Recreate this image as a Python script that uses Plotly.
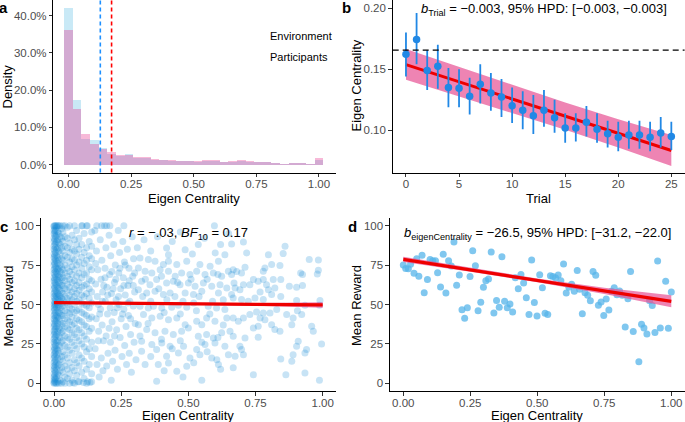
import plotly.graph_objects as go

W, H = 685, 422
FONT = "Liberation Sans, Arial, Helvetica, sans-serif"

# ---------------- Panel a: histogram of eigen centrality ----------------
n_bins = 30
env_density = [42.1, 17.4, 6.8, 6.5, 4.5, 3.0, 2.4, 2.9, 1.9, 1.8, 1.25, 1.2, 1.0, 0.9, 0.9,
               0.8, 1.1, 1.1, 0.6, 0.7, 1.0, 0.8, 0.6, 0.6, 0.4, 0.3, 0.4, 0.4, 0.2, 1.2]
part_density = [36.2, 15.0, 8.25, 5.6, 4.1, 3.5, 2.6, 2.6, 2.1, 2.0, 1.5, 1.3, 1.2, 1.1, 1.0,
                0.9, 1.3, 1.2, 0.6, 0.9, 1.3, 0.9, 0.7, 0.7, 0.5, 0.3, 0.5, 0.5, 0.3, 1.8]
env_mean = 0.127
part_mean = 0.172
legend_labels = ["Environment", "Participants"]
unit_ticks = [0, 0.25, 0.5, 0.75, 1.0]
unit_ticktext = ["0.00", "0.25", "0.50", "0.75", "1.00"]
a_yticks = [0, 0.1, 0.2, 0.3, 0.4]

# ---------------- Panel b: centrality by trial ----------------
trials = list(range(26))
b_mean = [0.1623, 0.1743, 0.149, 0.1525, 0.135, 0.1344, 0.128, 0.1377, 0.1306, 0.1273,
          0.1202, 0.1164, 0.112, 0.1164, 0.1104, 0.102, 0.102, 0.1066, 0.101, 0.0973,
          0.0945, 0.0962, 0.0962, 0.0945, 0.0978, 0.095]
b_hi = [0.180, 0.196, 0.1656, 0.170, 0.151, 0.150, 0.143, 0.154, 0.147, 0.142,
        0.135, 0.132, 0.129, 0.133, 0.125, 0.114, 0.114, 0.120, 0.114, 0.108,
        0.107, 0.108, 0.108, 0.107, 0.111, 0.107]
b_lo = [0.144, 0.154, 0.133, 0.134, 0.119, 0.119, 0.113, 0.122, 0.116, 0.111,
        0.106, 0.101, 0.097, 0.103, 0.098, 0.090, 0.091, 0.095, 0.090, 0.086,
        0.083, 0.085, 0.085, 0.083, 0.086, 0.084]
b_fit_t = [0, 5, 10, 15, 20, 25]
b_fit = [0.1538, 0.1398, 0.1258, 0.1117, 0.0977, 0.0836]
b_fit_hi = [0.1666, 0.1518, 0.1372, 0.1228, 0.1091, 0.0962]
b_fit_lo = [0.1414, 0.1280, 0.1144, 0.1006, 0.0861, 0.0710]
b_ref = 0.1656
b_xticks = [0, 5, 10, 15, 20, 25]
b_yticks = [0.10, 0.15, 0.20]

# ---------------- Panel c: individual mean reward vs centrality ----------------
c_col_x = [0.000, 0.003, 0.006, 0.010, 0.014, 0.018, 0.023, 0.028,
           0.033, 0.041, 0.050, 0.058, 0.067, 0.076, 0.084, 0.093, 0.103, 0.112, 0.121, 0.131, 0.140]
c_col_y = [
    [0, 0.5, 2, 4, 6, 9, 11, 13, 16, 18, 21, 23, 26, 28, 31, 33, 36, 38, 41, 43, 46, 48, 50, 52,
     55, 57, 60, 62, 65, 67, 70, 72, 75, 77, 80, 82, 85, 87, 90, 92, 95, 97, 99.5, 100],
    [1, 3, 5, 8, 10, 14, 17, 19, 22, 25, 29, 32, 34, 37, 40, 44, 47, 49, 51, 54, 58, 61, 64, 66,
     69, 73, 76, 79, 81, 84, 88, 91, 94, 96, 98, 100],
    [0, 2.5, 7, 12, 15, 20, 24, 27, 30, 35, 39, 42, 45, 50, 53, 56, 59, 63, 68, 71, 74, 78, 83, 86,
     89, 93, 97, 100],
    [0, 4, 9, 13, 18, 22, 26, 31, 36, 40, 43, 48, 51, 55, 58, 62, 66, 70, 73, 77, 81, 85, 90, 94, 99, 100],
    [1, 6, 11, 16, 21, 27, 33, 38, 42, 46, 50, 54, 57, 61, 65, 69, 72, 76, 80, 86, 91, 96, 100],
    [0, 5, 12, 19, 24, 30, 35, 41, 45, 49, 53, 56, 60, 64, 68, 73, 78, 84, 89, 95, 100],
    [2, 8, 15, 23, 29, 34, 39, 44, 48, 52, 55, 59, 63, 67, 71, 75, 82, 88, 93, 100],
    [0, 10, 17, 26, 32, 37, 43, 47, 51, 54, 58, 62, 66, 70, 74, 79, 86, 92, 98],
    [1, 7, 14, 20, 27, 33, 38, 43, 49, 53, 57, 62, 67, 72, 78, 84, 90, 96, 100],
    [0, 4, 11, 18, 24, 30, 36, 41, 46, 51, 55, 60, 65, 70, 75, 81, 87, 93, 100],
    [3, 9, 16, 23, 29, 35, 40, 45, 50, 54, 59, 63, 68, 73, 80, 86, 92, 99],
    [0, 6, 13, 21, 28, 34, 39, 44, 48, 52, 56, 61, 66, 71, 77, 83, 89, 100],
    [2, 10, 19, 26, 32, 37, 42, 47, 53, 58, 64, 69, 74, 79, 85, 94],
    [0, 8, 15, 24, 31, 38, 45, 50, 55, 60, 65, 72, 78, 84, 91, 100],
    [5, 13, 22, 29, 35, 41, 46, 52, 57, 62, 68, 75, 82, 88, 97],
    [1, 11, 18, 27, 34, 40, 47, 53, 59, 64, 70, 77, 85, 92],
    [7, 16, 25, 32, 39, 45, 51, 56, 61, 67, 73, 80, 88, 100],
    [3, 14, 23, 30, 37, 44, 50, 55, 62, 69, 76, 83, 95],
    [0, 9, 20, 28, 36, 43, 49, 57, 63, 70, 78, 86, 100],
    [12, 22, 33, 41, 48, 54, 60, 66, 74, 81, 90],
    [1, 6, 17, 26, 35, 42, 51, 58, 65, 72, 79, 87, 96],
]
c_mid = [
    (0.152, 97), (0.158, 84), (0.163, 72), (0.155, 63), (0.161, 55), (0.157, 41), (0.166, 33),
    (0.153, 22), (0.160, 12), (0.168, 4), (0.172, 91), (0.178, 78), (0.175, 66), (0.181, 58),
    (0.173, 47), (0.179, 37), (0.184, 27), (0.176, 16), (0.182, 8), (0.188, 100), (0.193, 86),
    (0.190, 73), (0.197, 61), (0.191, 52), (0.199, 44), (0.194, 30), (0.201, 19), (0.196, 11),
    (0.205, 94), (0.211, 81), (0.207, 69), (0.214, 57), (0.209, 48), (0.216, 39), (0.210, 26),
    (0.218, 14), (0.213, 2), (0.222, 88), (0.228, 75), (0.225, 64), (0.231, 53), (0.224, 45),
    (0.233, 34), (0.227, 21), (0.236, 9), (0.239, 97), (0.244, 83), (0.241, 70), (0.248, 60),
    (0.242, 50), (0.250, 41), (0.246, 29), (0.253, 17), (0.256, 90), (0.262, 77), (0.258, 67),
    (0.265, 56), (0.260, 47), (0.268, 36), (0.263, 24), (0.270, 12), (0.273, 85), (0.279, 73),
    (0.275, 62), (0.282, 52), (0.277, 43), (0.285, 31), (0.280, 19), (0.288, 7), (0.291, 93),
    (0.296, 79), (0.293, 68), (0.300, 58), (0.295, 49), (0.302, 38), (0.298, 26), (0.305, 15),
    (0.165, 50), (0.185, 62), (0.200, 56), (0.220, 60), (0.240, 55), (0.260, 62), (0.280, 65),
    (0.170, 44), (0.190, 67), (0.215, 71), (0.235, 48), (0.255, 44), (0.275, 51), (0.295, 62),
    (0.155, 76), (0.205, 35), (0.245, 73), (0.285, 41), (0.165, 27), (0.225, 30), (0.265, 75),
    (0.300, 70), (0.180, 52), (0.230, 66), (0.105, 100), (0.124, 100), (0.159, 100),
    (0.177, 100), (0.196, 100), (0.208, 100), (0.260, 100), (0.070, 0.5), (0.090, 1),
    (0.110, 0.5), (0.125, 1), (0.134, 0.5),
]
c_far_mid = [
    (0.597, 100), (0.419, 85.9), (0.426, 81.6), (0.537, 88), (0.600, 82.7), (0.636, 81.6),
    (0.488, 84.8), (0.320, 79.5), (0.351, 78.5), (0.376, 77.4), (0.407, 75.3), (0.426, 77.4),
    (0.457, 75.3), (0.494, 77.4), (0.543, 75.3), (0.581, 74.2), (0.612, 77.4), (0.314, 73.2),
    (0.339, 71.1), (0.364, 70), (0.395, 72.1), (0.426, 71.1), (0.451, 67.9), (0.475, 70),
    (0.506, 69), (0.531, 71.1), (0.562, 69), (0.593, 70), (0.624, 67.9), (0.649, 71.1),
    (0.326, 64.7), (0.357, 62.6), (0.382, 65.8), (0.419, 63.7), (0.444, 64.7), (0.469, 62.6),
    (0.500, 63.7), (0.525, 61.6), (0.556, 63.7), (0.587, 61.6), (0.618, 62.6), (0.643, 60.5),
    (0.314, 59.4), (0.345, 57.3), (0.376, 58.4), (0.407, 56.3), (0.432, 57.3), (0.488, 57.3),
    (0.519, 56.3), (0.550, 58.4), (0.612, 57.3), (0.661, 56.3), (0.320, 48.9), (0.351, 47.8),
    (0.370, 48.9), (0.401, 47.8), (0.438, 48.2), (0.463, 49.5), (0.494, 48.2), (0.574, 48.9),
    (0.605, 47.8), (0.636, 46.8), (0.333, 43.6), (0.364, 41.5), (0.395, 42.5), (0.426, 40.4),
    (0.457, 41.5), (0.488, 37.2), (0.531, 39.4), (0.550, 37.2), (0.500, 35.1), (0.568, 41.5),
    (0.599, 39.4), (0.643, 41.5), (0.314, 37.2), (0.345, 34.1), (0.376, 32), (0.413, 33),
    (0.444, 30.9), (0.475, 33), (0.537, 29.8), (0.568, 30.9), (0.593, 28.8), (0.624, 32),
    (0.655, 33), (0.326, 26.7), (0.364, 24.6), (0.401, 25.6), (0.432, 23.5), (0.482, 23.5),
    (0.531, 21.4), (0.562, 24.6), (0.599, 25.6), (0.636, 23.5), (0.326, 20.3), (0.382, 21.4),
    (0.419, 17.2), (0.463, 19.3), (0.506, 16.1), (0.543, 18.2), (0.587, 16.1), (0.649, 18.2),
    (0.339, 11.9), (0.388, 11.9), (0.426, 12.9), (0.457, 7.7), (0.494, 10.8), (0.606, 15),
    (0.382, 1.3), (0.612, 11.9), (0.310, 86), (0.335, 91), (0.360, 84), (0.385, 93),
    (0.440, 90), (0.470, 96), (0.515, 82), (0.560, 92), (0.620, 88), (0.650, 95), (0.330, 55),
    (0.360, 52), (0.390, 60), (0.420, 53), (0.450, 55), (0.480, 52), (0.520, 51), (0.540, 55),
    (0.590, 52), (0.630, 53), (0.340, 66), (0.400, 68), (0.460, 64), (0.510, 66), (0.570, 66),
    (0.610, 69), (0.350, 38), (0.410, 45), (0.470, 44), (0.530, 46), (0.580, 44), (0.630, 37),
    (0.320, 30), (0.400, 28), (0.470, 27), (0.550, 26), (0.610, 29), (0.360, 17), (0.440, 22),
    (0.520, 13), (0.570, 20), (0.620, 9), (0.480, 4), (0.550, 2), (0.410, 8),
]
c_far = [
    (0.661, 88.4), (0.717, 82.7), (0.705, 89.7), (0.860, 86.9), (0.798, 81.6), (0.853, 82.3),
    (0.950, 78.5), (0.984, 71.7), (0.980, 69.4), (0.918, 70), (0.925, 69), (0.810, 75.3),
    (0.841, 74.7), (0.785, 73.2), (0.779, 71.1), (0.711, 73.6), (0.698, 70), (0.680, 71),
    (0.667, 72.1), (0.661, 69), (0.670, 63.7), (0.742, 65.8), (0.760, 64.7), (0.779, 65.8),
    (0.816, 65.8), (0.844, 65.8), (0.876, 61.6), (0.903, 60.9), (0.925, 62), (0.791, 62.6),
    (0.822, 60.5), (0.798, 59.4), (0.729, 62.6), (0.705, 62.6), (0.692, 59.4), (0.674, 60.5),
    (0.767, 58), (0.810, 56.3), (0.844, 55), (0.748, 54.2), (0.779, 53.1), (0.723, 52),
    (0.698, 53.1), (0.667, 54.2), (0.990, 52.5), (0.903, 52.5), (0.934, 49.5), (0.906, 46.1),
    (0.922, 43.6), (0.890, 41.5), (0.866, 43.6), (0.829, 46.8), (0.804, 44.6), (0.779, 44.6),
    (0.767, 41.5), (0.785, 40.4), (0.754, 45.3), (0.729, 43.6), (0.705, 41.5), (0.686, 39.4),
    (0.667, 41.5), (0.742, 35.1), (0.760, 36.2), (0.810, 37.2), (0.822, 34.1), (0.841, 33),
    (0.885, 37.2), (0.959, 36.2), (0.965, 33), (0.996, 25), (0.667, 29.8), (0.711, 28.8),
    (0.760, 29.2), (0.909, 26.7), (0.903, 23.5), (0.940, 21.4), (0.934, 19.3), (0.890, 18.2),
    (0.885, 14), (0.844, 15.5), (0.667, 9.8), (0.674, 17.2), (0.692, 23.5), (0.705, 18.2),
    (0.698, 21.4), (0.742, 5.5), (0.863, 5.5), (0.934, 6.6), (0.988, 1.9), (0.984, 78.2),
    (0.988, 49.5),
]
c_fit_x = [0, 0.25, 0.5, 0.75, 1.0]
c_fit = [51.2, 50.8, 50.45, 50.1, 49.7]
c_fit_lo = [50.5, 50.3, 49.8, 49.2, 47.9]
c_fit_hi = [51.9, 51.4, 51.1, 51.0, 51.5]
reward_ticks = [0, 25, 50, 75, 100]

# ---------------- Panel d: environment-level mean reward ----------------
d_points = [
    (0.000, 75.1), (0.009, 72.9), (0.019, 72.7), (0.027, 75.5), (0.040, 69.8), (0.050, 79.1),
    (0.058, 67.9), (0.070, 81.2), (0.078, 57.5), (0.090, 65.8), (0.100, 78.6), (0.110, 77.8),
    (0.120, 77.8), (0.128, 70.2), (0.139, 61.1), (0.149, 81.8), (0.159, 57.3), (0.169, 77.8),
    (0.179, 74.4), (0.189, 89.6), (0.199, 62.2), (0.209, 68.7), (0.219, 46.7), (0.229, 41.2),
    (0.239, 48.0), (0.249, 67.7), (0.259, 84.1), (0.269, 74.6), (0.279, 46.1), (0.289, 51.4),
    (0.299, 60.9), (0.308, 65.1), (0.318, 66.2), (0.328, 83.3), (0.338, 44.6), (0.348, 52.6),
    (0.358, 48.2), (0.368, 80.3), (0.378, 52.0), (0.388, 48.0), (0.398, 50.3), (0.408, 45.2),
    (0.418, 67.0), (0.429, 60.0), (0.439, 69.1), (0.449, 63.6), (0.459, 54.3), (0.469, 43.6),
    (0.479, 78.2), (0.489, 51.2), (0.499, 42.7), (0.509, 68.9), (0.519, 60.7), (0.529, 44.4),
    (0.539, 43.6), (0.549, 68.3), (0.558, 67.7), (0.568, 67.0), (0.578, 68.7), (0.588, 65.1),
    (0.598, 75.7), (0.608, 57.3), (0.618, 60.9), (0.628, 62.8), (0.638, 58.4), (0.649, 71.5),
    (0.658, 59.6), (0.668, 44.2), (0.678, 57.5), (0.688, 55.8), (0.698, 52.4), (0.708, 71.0),
    (0.718, 68.5), (0.728, 49.5), (0.738, 51.6), (0.748, 43.1), (0.757, 53.5), (0.767, 46.5),
    (0.777, 58.4), (0.787, 60.7), (0.797, 56.2), (0.807, 58.6), (0.817, 55.8), (0.828, 35.7),
    (0.838, 53.7), (0.848, 71.0), (0.858, 32.8), (0.879, 13.7), (0.889, 37.4), (0.898, 35.1),
    (0.909, 31.3), (0.919, 52.4), (0.929, 49.3), (0.939, 32.3), (0.949, 77.6), (0.959, 35.1),
    (0.979, 64.7), (0.989, 34.9), (1.000, 57.9),
]
d_fit_x = [0, 0.25, 0.5, 0.75, 1.0]
d_fit = [78.6, 72.0, 65.3, 58.7, 52.0]
d_fit_lo = [76.9, 70.8, 64.1, 56.6, 48.2]
d_fit_hi = [80.3, 73.2, 66.5, 60.6, 55.8]

# ---------------- colours ----------------
ENV_FILL = "rgba(135,206,235,0.45)"
PART_FILL = "rgba(231,41,138,0.33)"
RIBBON = "rgba(231,84,150,0.72)"
FIT_RED = "#EE0000"
B_BLUE = "rgb(33,136,229)"
C_DOT = "rgba(20,140,215,0.24)"
D_DOT = "rgba(86,180,233,0.75)"


def px_x(px):
    return px / W


def px_y(py):
    return 1 - py / H


fig = go.Figure()

# ---- a
centers = [k / (n_bins - 1) for k in range(n_bins)]
bw = 1 / (n_bins - 1)
fig.add_trace(go.Bar(x=centers, y=[v / 100 for v in env_density], width=bw,
                     marker=dict(color=ENV_FILL, line=dict(width=0)),
                     xaxis="x", yaxis="y", showlegend=False))
fig.add_trace(go.Bar(x=centers, y=[v / 100 for v in part_density], width=bw,
                     marker=dict(color=PART_FILL, line=dict(width=0)),
                     xaxis="x", yaxis="y", showlegend=False))

# ---- b
fig.add_trace(go.Scatter(x=b_fit_t, y=b_fit_lo, mode="lines", line=dict(width=0),
                         xaxis="x2", yaxis="y2", showlegend=False, hoverinfo="skip"))
fig.add_trace(go.Scatter(x=b_fit_t, y=b_fit_hi, mode="lines", line=dict(width=0),
                         fill="tonexty", fillcolor=RIBBON,
                         xaxis="x2", yaxis="y2", showlegend=False, hoverinfo="skip"))
fig.add_trace(go.Scatter(x=b_fit_t, y=b_fit, mode="lines", line=dict(color=FIT_RED, width=3),
                         xaxis="x2", yaxis="y2", showlegend=False))
fig.add_trace(go.Scatter(
    x=trials, y=b_mean, mode="markers",
    marker=dict(color=B_BLUE, size=7.5),
    error_y=dict(type="data", symmetric=False,
                 array=[h - m for h, m in zip(b_hi, b_mean)],
                 arrayminus=[m - l for m, l in zip(b_mean, b_lo)],
                 color=B_BLUE, thickness=1.8, width=0),
    xaxis="x2", yaxis="y2", showlegend=False))

# ---- c
cx, cy = [], []
for x0, ys in zip(c_col_x, c_col_y):
    for y0 in ys:
        cx.append(x0)
        cy.append(y0)
for pts in (c_mid, c_far_mid, c_far):
    for x0, y0 in pts:
        cx.append(x0)
        cy.append(y0)
fig.add_trace(go.Scatter(x=cx, y=cy, mode="markers",
                         marker=dict(color=C_DOT, size=7, line=dict(width=0)),
                         xaxis="x3", yaxis="y3", showlegend=False))
fig.add_trace(go.Scatter(x=c_fit_x, y=c_fit_lo, mode="lines", line=dict(width=0),
                         xaxis="x3", yaxis="y3", showlegend=False, hoverinfo="skip"))
fig.add_trace(go.Scatter(x=c_fit_x, y=c_fit_hi, mode="lines", line=dict(width=0),
                         fill="tonexty", fillcolor=RIBBON,
                         xaxis="x3", yaxis="y3", showlegend=False, hoverinfo="skip"))
fig.add_trace(go.Scatter(x=c_fit_x, y=c_fit, mode="lines", line=dict(color=FIT_RED, width=3.2),
                         xaxis="x3", yaxis="y3", showlegend=False))

# ---- d
fig.add_trace(go.Scatter(x=[p[0] for p in d_points], y=[p[1] for p in d_points], mode="markers",
                         marker=dict(color=D_DOT, size=7, line=dict(width=0)),
                         xaxis="x4", yaxis="y4", showlegend=False))
fig.add_trace(go.Scatter(x=d_fit_x, y=d_fit_lo, mode="lines", line=dict(width=0),
                         xaxis="x4", yaxis="y4", showlegend=False, hoverinfo="skip"))
fig.add_trace(go.Scatter(x=d_fit_x, y=d_fit_hi, mode="lines", line=dict(width=0),
                         fill="tonexty", fillcolor=RIBBON,
                         xaxis="x4", yaxis="y4", showlegend=False, hoverinfo="skip"))
fig.add_trace(go.Scatter(x=d_fit_x, y=d_fit, mode="lines", line=dict(color=FIT_RED, width=3.2),
                         xaxis="x4", yaxis="y4", showlegend=False))

axis_common = dict(showline=True, linecolor="black", linewidth=1, ticks="outside",
                   ticklen=3.5, tickwidth=1, tickcolor="#333333", showgrid=False,
                   zeroline=False, tickfont=dict(size=11.5, color="#4D4D4D", family=FONT),
                   fixedrange=True, automargin=False)
xaxis_extra = dict(ticklabelstandoff=-3)

fig.update_layout(
    width=W, height=H, margin=dict(l=0, r=0, t=0, b=0, pad=0, autoexpand=False), autosize=False,
    paper_bgcolor="white", plot_bgcolor="white", barmode="overlay", bargap=0,
    font=dict(family=FONT, color="black"), showlegend=False,
    xaxis=dict(domain=[px_x(53.3), px_x(335.5)], range=[-0.0607, 1.066], anchor="y",
               tickvals=unit_ticks, ticktext=unit_ticktext, **axis_common, **xaxis_extra),
    yaxis=dict(domain=[px_y(172.5), 1], range=[-0.021, 0.442], anchor="x",
               tickvals=a_yticks, tickformat=".1%", **axis_common),
    xaxis2=dict(domain=[px_x(392.7), px_x(684.6)], range=[-1.25, 26.25], anchor="y2",
                tickvals=b_xticks, **axis_common, **xaxis_extra),
    yaxis2=dict(domain=[px_y(172.5), 1], range=[0.0656, 0.2066], anchor="x2",
                tickvals=b_yticks, ticktext=["0.10", "0.15", "0.20"], **axis_common),
    xaxis3=dict(domain=[px_x(40.6), px_x(336.1)], range=[-0.05, 1.05], anchor="y3",
                tickvals=unit_ticks, ticktext=unit_ticktext, **axis_common, **xaxis_extra),
    yaxis3=dict(domain=[px_y(391.2), px_y(217.8)], range=[-5, 105], anchor="x3",
                tickvals=reward_ticks, **axis_common),
    xaxis4=dict(domain=[px_x(389.9), px_x(684.7)], range=[-0.05, 1.05], anchor="y4",
                tickvals=unit_ticks, ticktext=unit_ticktext, **axis_common, **xaxis_extra),
    yaxis4=dict(domain=[px_y(391.2), px_y(217.8)], range=[-5, 105], anchor="x4",
                tickvals=reward_ticks, **axis_common),
)

# dashed reference lines
fig.add_shape(type="line", xref="x", yref="y domain", x0=env_mean, x1=env_mean, y0=0, y1=1,
              line=dict(color="#1E90FF", width=1.6, dash="4px,3px"))
fig.add_shape(type="line", xref="x", yref="y domain", x0=part_mean, x1=part_mean, y0=0, y1=1,
              line=dict(color="#FF0000", width=1.6, dash="4px,3px"))
fig.add_shape(type="line", xref="x2 domain", yref="y2", x0=0, x1=1, y0=b_ref, y1=b_ref,
              line=dict(color="black", width=1.4, dash="6px,4px"))

ann = []


def text(px, py, s, size=13, xanchor="center", angle=0, color="black"):
    ann.append(dict(x=px_x(px), y=px_y(py), xref="paper", yref="paper", text=s,
                    showarrow=False, xanchor=xanchor, yanchor="middle", textangle=angle,
                    borderpad=0, font=dict(size=size, color=color, family=FONT)))


# panel letters
text(4, 8, "<b>a</b>", 15)
text(346, 8, "<b>b</b>", 15)
text(4, 226, "<b>c</b>", 15)
text(353, 226, "<b>d</b>", 15)

# legend texts
text(269, 36, legend_labels[0], 11, "left")
text(269, 57, legend_labels[1], 11, "left")

# axis titles
text(194.4, 198, "Eigen Centrality")
text(7.5, 87, "Density", angle=-90)
text(538.6, 198, "Trial")
text(355.5, 86, "Eigen Centrality", angle=-90)
text(188.3, 415, "Eigen Centrality")
text(7.5, 306, "Mean Reward", angle=-90)
text(537.3, 415, "Eigen Centrality")
text(356, 306, "Mean Reward", angle=-90)

# statistics
text(544, 9, "<i>b</i><sub>Trial</sub> = −0.003, 95% HPD: [−0.003, −0.003]", 13)
text(188, 233, "<i>r</i> = −.03, <i>BF</i><sub>10</sub> = 0.17", 13)
text(537, 233, "<i>b</i><sub>eigenCentrality</sub> = −26.5, 95% HPD: [−31.2, −22.0]", 13)

fig.update_layout(annotations=ann)
fig.write_html("out.html",
               config={"displayModeBar": False, "staticPlot": True},
               post_script="document.body.style.margin='0px';document.body.style.padding='0px';")
